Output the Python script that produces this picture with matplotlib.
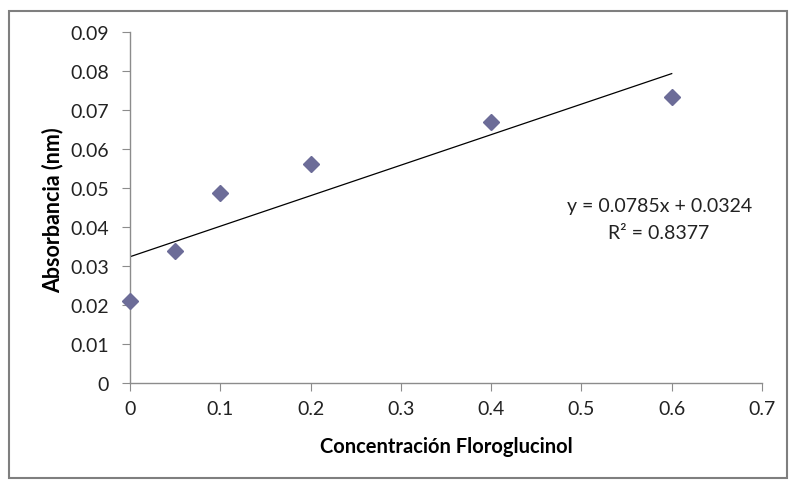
import numpy as np
import matplotlib
matplotlib.use("Agg")
import matplotlib.pyplot as plt
from matplotlib.patches import Rectangle

# data
conc = [0, 0.05, 0.1, 0.2, 0.4, 0.6]
absorb = [0.0210, 0.0338, 0.0488, 0.0562, 0.0668, 0.0733]
xticks = [0, 0.1, 0.2, 0.3, 0.4, 0.5, 0.6, 0.7]
yticks = [0, 0.01, 0.02, 0.03, 0.04, 0.05, 0.06, 0.07, 0.08, 0.09]

plt.rcParams['font.family'] = ['Lato', 'DejaVu Sans']

fig = plt.figure(figsize=(7.89, 4.81), dpi=100)
ax = fig.add_axes([130/789, 1-384/481, (762-130)/789, (384-33)/481])

# linear trend line
m, b = np.polyfit(conc, absorb, 1)
xl = np.array([0, 0.6])
ax.plot(xl, m*xl + b, color='black', lw=0.9, zorder=2)

ax.plot(conc, absorb, 'D', color='#6c6c98', markersize=8.5, markeredgecolor='#6c6c98', zorder=3, clip_on=False)

ax.set_xlim(0, 0.7)
ax.set_ylim(0, 0.09)
ax.set_xticks(xticks)
ax.set_xticklabels(['0', '0.1', '0.2', '0.3', '0.4', '0.5', '0.6', '0.7'])
ax.set_yticks(yticks)
ax.set_yticklabels(['0', '0.01', '0.02', '0.03', '0.04', '0.05', '0.06', '0.07', '0.08', '0.09'])

for s in ['top', 'right']:
    ax.spines[s].set_visible(False)
for s in ['left', 'bottom']:
    ax.spines[s].set_color('#8c8c8c')
    ax.spines[s].set_linewidth(1)
ax.tick_params(direction='out', length=6, color='#8c8c8c', labelsize=14, labelcolor='#222222')
ax.tick_params(axis='x', pad=6)
ax.tick_params(axis='y', pad=9)

ax.set_xlabel('Concentración Floroglucinol', fontsize=14.5, fontweight='bold')
ax.set_ylabel('Absorbancia (nm)', fontsize=15.5, fontweight='bold')
ax.xaxis.set_label_coords(0.5, -0.179)
ax.xaxis.label.set_verticalalignment('center')
ax.yaxis.set_label_coords(-0.122, 0.496)
ax.yaxis.label.set_verticalalignment('center')

ax.text(0.587, 0.0454, 'y = 0.0785x + 0.0324', ha='center', va='center', fontsize=14, color='#222222')
ax.text(0.585, 0.0387, 'R² = 0.8377', ha='center', va='center', fontsize=14, color='#222222')

# outer chart frame
fig.patches.append(Rectangle((9/789, 2/481), 778/789, 467/481, transform=fig.transFigure,
                             fill=False, edgecolor='#7f7f7f', lw=1.5))

fig.savefig('out.png', dpi=100)
